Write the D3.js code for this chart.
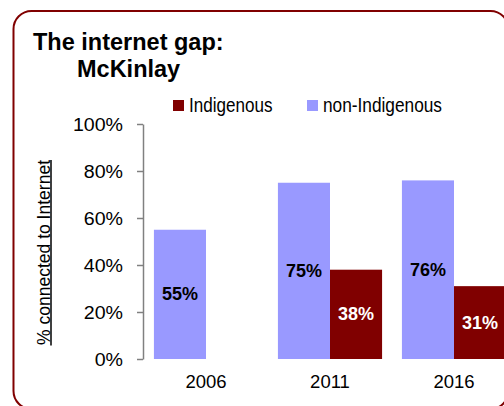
<!DOCTYPE html>
<html>
<head>
<meta charset="utf-8">
<script src="https://cdn.jsdelivr.net/npm/d3@7/dist/d3.min.js"></script>
<style>
  html, body { margin: 0; padding: 0; background: #fff; overflow: hidden; }
  svg { display: block; font-family: "Liberation Sans", Arial, sans-serif; }
</style>
</head>
<body>
<svg id="chart" width="504" height="406"></svg>
<script>
// Share of households connected to the internet, McKinlay
const years = ["2006", "2011", "2016"];
const seriesNames = ["non-Indigenous", "Indigenous"];
const nonIndigenous = [55, 75, 76];
const indigenous = [null, 38, 31];
const yTicks = [0, 20, 40, 60, 80, 100];
const colors = { "non-Indigenous": "#9999ff", "Indigenous": "#800000" };
const labelColors = { "non-Indigenous": "#000", "Indigenous": "#fff" };

const svg = d3.select("#chart");

// Rounded frame around the whole panel
svg.append("rect")
  .attr("x", 13.5).attr("y", 11)
  .attr("width", 495).attr("height", 398)
  .attr("rx", 18).attr("ry", 18)
  .attr("fill", "none")
  .attr("stroke", "#800000")
  .attr("stroke-width", 2);

// Title
const title = svg.append("g").attr("font-weight", "bold").attr("font-size", "23.5px").attr("fill", "#000");
title.append("text").attr("x", 33).attr("y", 49.5).text("The internet gap:");
title.append("text").attr("x", 77).attr("y", 77).text("McKinlay");

// Scales
const y = d3.scaleLinear().domain([0, 100]).range([359, 124]);
const x0 = d3.scaleBand().domain(years).range([144, 516]).paddingInner(0.16).paddingOuter(0.08);
const x1 = d3.scaleBand().domain(seriesNames).range([0, x0.bandwidth()]);

// Stretch or squeeze a text to a target width
function fitWidth(sel, factor) {
  sel.each(function () {
    const w = this.getComputedTextLength();
    d3.select(this).attr("textLength", w * factor).attr("lengthAdjust", "spacingAndGlyphs");
  });
}

// Bars
const rows = years.map((yr, i) => ({
  year: yr,
  values: [
    { key: "non-Indigenous", value: nonIndigenous[i] },
    { key: "Indigenous", value: indigenous[i] }
  ].filter(d => d.value != null)
}));

const groups = svg.append("g").selectAll("g")
  .data(rows).join("g")
  .attr("transform", d => `translate(${x0(d.year)},0)`);

groups.selectAll("rect")
  .data(d => d.values).join("rect")
  .attr("x", d => x1(d.key))
  .attr("y", d => y(d.value))
  .attr("width", x1.bandwidth())
  .attr("height", d => y(0) - y(d.value))
  .attr("fill", d => colors[d.key]);

groups.selectAll("text")
  .data(d => d.values).join("text")
  .attr("x", d => x1(d.key) + x1.bandwidth() / 2)
  .attr("y", d => (y(d.value) + y(0)) / 2)
  .attr("text-anchor", "middle")
  .attr("dominant-baseline", "central")
  .attr("font-weight", "bold")
  .attr("font-size", "18px")
  .attr("fill", d => labelColors[d.key])
  .text(d => d.value + "%");

// Y axis
const yAxis = svg.append("g")
  .attr("transform", "translate(143,0)")
  .call(d3.axisLeft(y).tickValues(yTicks).tickFormat(d => d + "%").tickSize(6).tickSizeOuter(0).tickPadding(14));
yAxis.select(".domain").attr("stroke", "#808080").attr("stroke-width", 1.5);
yAxis.selectAll(".tick line").attr("stroke", "#808080").attr("stroke-width", 1.5);
yAxis.selectAll(".tick text")
  .attr("font-size", "17.5px")
  .attr("font-family", "Liberation Sans, Arial, sans-serif")
  .attr("fill", "#000")
  .attr("dy", "0.36em")
  .call(fitWidth, 1.12);

// X axis labels (no axis line)
const xAxis = svg.append("g")
  .attr("transform", "translate(0,359)")
  .call(d3.axisBottom(x0).tickSize(0).tickPadding(16));
xAxis.select(".domain").remove();
xAxis.selectAll(".tick text")
  .attr("font-size", "18.5px")
  .attr("font-family", "Liberation Sans, Arial, sans-serif")
  .attr("fill", "#000");

// Y axis title, underlined
const yTitle = svg.append("text")
  .attr("transform", "translate(49.5,252.5) rotate(-90)")
  .attr("text-anchor", "middle")
  .attr("font-size", "19px")
  .attr("fill", "#000")
  .text("% connected to Internet");
yTitle.attr("textLength", 185).attr("lengthAdjust", "spacingAndGlyphs");
svg.append("line")
  .attr("x1", 51).attr("x2", 51)
  .attr("y1", 160).attr("y2", 345.5)
  .attr("stroke", "#000").attr("stroke-width", 1.5);

// Legend
const legendItems = [
  { key: "Indigenous", x: 173, width: 83.5 },
  { key: "non-Indigenous", x: 307, width: 119 }
];
const legend = svg.append("g").selectAll("g")
  .data(legendItems).join("g")
  .attr("transform", d => `translate(${d.x},100)`);
legend.append("rect")
  .attr("width", 11).attr("height", 11)
  .attr("fill", d => colors[d.key]);
legend.append("text")
  .attr("x", 16).attr("y", 11.7)
  .attr("font-size", "20px")
  .attr("fill", "#000")
  .attr("textLength", d => d.width)
  .attr("lengthAdjust", "spacingAndGlyphs")
  .text(d => d.key);
</script>
</body>
</html>
